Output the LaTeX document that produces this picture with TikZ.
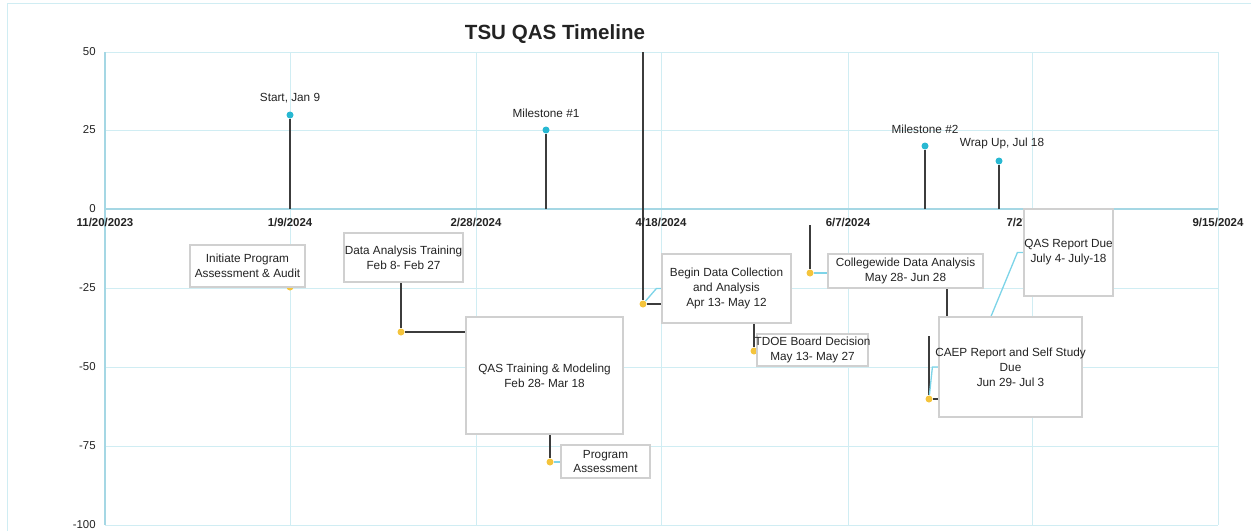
\documentclass[tikz,border=0pt]{standalone}
\usepackage{fontspec}
\setmainfont{Liberation Sans}
\usetikzlibrary{positioning}

\definecolor{gridBlue}{RGB}{208,237,243}
\definecolor{axisBlue}{RGB}{165,215,228}
\definecolor{msCyan}{RGB}{40,184,210}
\definecolor{evGold}{RGB}{244,196,60}
\definecolor{stemGray}{RGB}{60,60,60}
\definecolor{linkCyan}{RGB}{125,212,232}
\definecolor{boxGray}{RGB}{208,208,208}
\definecolor{txtGray}{RGB}{35,35,35}

\newcommand{\fitline}[1]{\makebox[0pt]{#1}}

\pgfdeclarelayer{background}
\pgfsetlayers{background,main}

\tikzstyle{evBox} = [rectangle, draw=boxGray, line width=0.7pt, fill=white, inner sep=0pt, align=center, text=txtGray, font=\fontsize{6.7}{8.5}\selectfont]
\tikzstyle{msDot} = [circle, fill=msCyan, inner sep=0pt, minimum size=0.14cm]
\tikzstyle{evDot} = [circle, fill=evGold, inner sep=0pt, minimum size=0.14cm]
\tikzstyle{msLabel} = [inner sep=0pt, text=txtGray, font=\fontsize{6.7}{8.5}\selectfont]
\tikzstyle{axisLbl} = [inner sep=0pt, text=txtGray, font=\bfseries\fontsize{6.5}{8}\selectfont]
\tikzstyle{yLbl} = [inner sep=0pt, anchor=east, text=txtGray, font=\fontsize{6.5}{8}\selectfont]
\tikzstyle{stemLine} = [stemGray, line width=0.75pt]
\tikzstyle{linkLine} = [linkCyan, line width=0.75pt]
\tikzstyle{gridLine} = [gridBlue, line width=0.5pt]
\tikzstyle{axisLine} = [axisBlue, line width=0.7pt]

\begin{document}
\begin{tikzpicture}[x=0.02cm, y=-0.02cm, node distance=0.16cm]
    \useasboundingbox (0,0) rectangle (1251,531);

    % chart frame and grid
    \begin{pgfonlayer}{background}
    \draw[gridLine] (7,531) -- (7,3) -- (1251,3);
    \foreach \gy in {52,130,288,367,446,525}
        \draw[gridLine] (105,\gy) -- (1218,\gy);
    \foreach \gx in {290,476,661,848,1032,1218}
        \draw[gridLine] (\gx,52) -- (\gx,525);
    \draw[axisLine] (105,52) -- (105,525);
    \draw[axisLine] (105,209) -- (1218,209);
    \end{pgfonlayer}

    \node (title)[font=\bfseries\fontsize{11.7}{14}\selectfont, text=txtGray] at (555,34) {TSU QAS Timeline};

    % axis labels
    \foreach \gy/\gv [count=\i] in {52/50,130/25,209/0,288/-25,367/-50,446/-75,525/-100}
        \node (yl\i)[yLbl] at (96,\gy) {\gv};
    \foreach \gx/\gd [count=\i] in {105/{11/20/2023},290/{1/9/2024},476/{2/28/2024},661/{4/18/2024},848/{6/7/2024},1032/{7/27/2024},1218/{9/15/2024}}
        \node (xl\i)[axisLbl] at (\gx,222) {\gd};

    % milestones
    \node (startDot)[msDot] at (290,115) {};
    \node (ms1Dot)[msDot] at (546,130) {};
    \node (ms2Dot)[msDot] at (925,146) {};
    \node (wrapDot)[msDot] at (999,161) {};
    \node (startLbl)[msLabel, above=of startDot] {Start, Jan 9};
    \node (ms1Lbl)[msLabel, above=of ms1Dot] {Milestone \#1};
    \node (ms2Lbl)[msLabel, above=of ms2Dot] {Milestone \#2};
    \node (wrapLbl)[msLabel, above=of wrapDot, xshift=0.06cm] {Wrap Up, Jul 18};
    \coordinate (startBase) at (290,209);
    \coordinate (ms1Base) at (546,209);
    \coordinate (ms2Base) at (925,209);
    \coordinate (wrapBase) at (999,209);

    % events
    \node (iniDot)[evDot] at (290,287) {};
    \node (datDot)[evDot] at (401,332) {};
    \node (qasDot)[evDot] at (550,462) {};
    \node (bdcDot)[evDot] at (643,304) {};
    \node (tdoeDot)[evDot] at (754,351) {};
    \node (colDot)[evDot] at (810,273) {};
    \node (caepDot)[evDot] at (929,399) {};
    \coordinate (bdcTop) at (643,52);
    \coordinate (colTop) at (810,225);
    \coordinate (caepTop) at (929,336);

    \node (iniBox)[evBox, minimum width=2.3cm, minimum height=0.84cm] at (247.5,266) {Initiate Program\\Assessment \& Audit};
    \node (datBox)[evBox, minimum width=2.38cm, minimum height=0.98cm] at (403.5,257.5) {\fitline{Data Analysis Training}\\Feb 8- Feb 27};
    \node (qasBox)[evBox, minimum width=3.14cm, minimum height=2.34cm] at (544.5,375.5) {QAS Training \& Modeling\\Feb 28- Mar 18};
    \node (pgmBox)[evBox, minimum width=1.78cm, minimum height=0.66cm] at (605.5,461.5) {Program\\Assessment};
    \node (bdcBox)[evBox, minimum width=2.58cm, minimum height=1.38cm] at (726.5,288.5) {Begin Data Collection\\and Analysis\\Apr 13- May 12};
    \node (tdoeBox)[evBox, minimum width=2.22cm, minimum height=0.64cm] at (812.5,350) {\fitline{TDOE Board Decision}\\May 13- May 27};
    \node (colBox)[evBox, minimum width=3.1cm, minimum height=0.68cm] at (905.5,271) {Collegewide Data Analysis\\May 28- Jun 28};
    \node (caepBox)[evBox, minimum width=2.86cm, minimum height=2.0cm] at (1010.5,367) {\fitline{CAEP Report and Self Study}\\Due\\Jun 29- Jul 3};
    \node (qrBox)[evBox, minimum width=1.78cm, minimum height=1.74cm] at (1068.5,252.5) {QAS Report Due\\July 4- July-18};

    % connectors
    \begin{pgfonlayer}{background}
    \draw[stemLine] (startBase) -- (startDot);
    \draw[stemLine] (ms1Base) -- (ms1Dot);
    \draw[stemLine] (ms2Base) -- (ms2Dot);
    \draw[stemLine] (wrapBase) -- (wrapDot);

    \draw[stemLine] (datDot |- datBox.south) -- (datDot) -- (datDot -| qasBox.west);
    \draw[stemLine] (qasDot |- qasBox.south) -- (qasDot);
    \draw[linkLine] (qasDot) -- (qasDot -| pgmBox.west);
    \draw[stemLine] (bdcTop) -- (bdcDot) -- (bdcDot -| bdcBox.west);
    \draw[linkLine] (bdcDot) -- ([xshift=-0.1cm]bdcBox.west) -- (bdcBox.west);
    \draw[stemLine] (tdoeDot |- bdcBox.south) -- (tdoeDot) -- (tdoeDot -| tdoeBox.west);
    \draw[stemLine] (colTop) -- (colDot);
    \draw[linkLine] (colDot) -- (colDot -| colBox.west);
    \draw[stemLine] ([xshift=0.83cm]colBox.south) -- ([xshift=0.83cm]colBox.south |- caepBox.north);
    \draw[stemLine] (caepTop) -- (caepDot) -- (caepDot -| caepBox.west);
    \draw[linkLine] (caepDot) -- ([xshift=-0.12cm]caepBox.west) -- (caepBox.west);
    \draw[linkLine] ([xshift=-0.39cm]caepBox.north) -- ([xshift=-0.12cm]qrBox.west) -- (qrBox.west);
    \end{pgfonlayer}
\end{tikzpicture}
\end{document}
